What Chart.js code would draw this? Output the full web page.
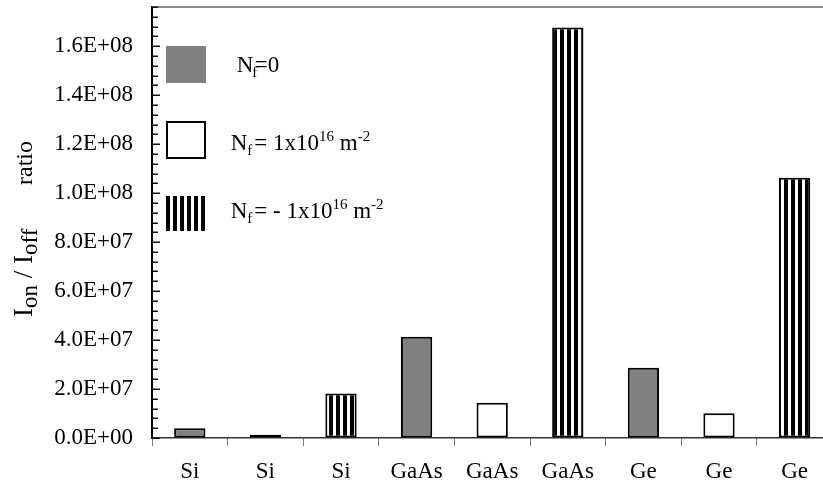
<!DOCTYPE html>
<html>
<head>
<meta charset="utf-8">
<script src="https://cdn.jsdelivr.net/npm/chart.js@4/dist/chart.umd.min.js"></script>
<style>
  html, body { margin: 0; padding: 0; background: #fff; overflow: hidden; width: 823px; height: 489px; }
  canvas { display: block; }
</style>
</head>
<body>
<canvas id="c" width="840" height="489"></canvas>
<script>
// ---- data ----
const categories = ['Si', 'Si', 'Si', 'GaAs', 'GaAs', 'GaAs', 'Ge', 'Ge', 'Ge'];
const nfZero = [4.0e6, null, null, 4.13e7, null, null, 2.87e7, null, null];
const nfPos  = [null, 1.35e6, null, null, 1.44e7, null, null, 1.01e7, null];
const nfNeg  = [null, null, 1.82e7, null, null, 1.676e8, null, null, 1.063e8];
const yMin = 0, yMax = 1.76e8, yMajorStep = 2e7, yMinorStep = 4e6;

const SERIF = '"Liberation Serif", "Times New Roman", serif';

// stripe pattern
function makeStripe() {
  const pc = document.createElement('canvas');
  pc.width = 7; pc.height = 8;
  const g = pc.getContext('2d');
  g.fillStyle = '#fff'; g.fillRect(0, 0, 7, 8);
  g.fillStyle = '#000'; g.fillRect(0, 0, 4, 8);
  return document.getElementById('c').getContext('2d').createPattern(pc, 'repeat');
}
const stripe = makeStripe();

function fmtSci(v) {
  if (Math.abs(v) < 1) return '0.0E+00';
  const e = Math.floor(Math.log10(v) + 1e-9);
  const m = v / Math.pow(10, e);
  return m.toFixed(1) + 'E+' + String(e).padStart(2, '0');
}

function drawRich(ctx, x, y, parts) {
  let cx = x;
  for (const p of parts) {
    if (p.at !== undefined) cx = x + p.at;
    ctx.font = p.size + 'px ' + SERIF;
    ctx.fillText(p.t, cx + (p.dx || 0), y + (p.dy || 0));
    cx += ctx.measureText(p.t).width + (p.dx || 0);
  }
  return cx;
}

const decorPlugin = {
  id: 'decor',
  afterDraw(chart) {
    const ctx = chart.ctx;
    const ys = chart.scales.y;
    const area = chart.chartArea;
    ctx.save();
    // top border line
    ctx.strokeStyle = '#8a8a8a';
    ctx.lineWidth = 2;
    ctx.beginPath();
    ctx.moveTo(area.left, area.top);
    ctx.lineTo(chart.width, area.top);
    ctx.stroke();
    // inner y ticks
    ctx.strokeStyle = '#111';
    ctx.lineWidth = 1.5;
    for (const t of ys.ticks) {
      const py = Math.round(ys.getPixelForValue(t.value)) + 0.25;
      const major = Math.round(t.value / 1e6) % 20 === 0;
      const len = major ? 8 : 6;
      ctx.beginPath();
      ctx.moveTo(area.left, py);
      ctx.lineTo(area.left + len, py);
      ctx.stroke();
    }
    // legend
    const bx = 166, bw = 40;
    ctx.fillStyle = '#808080';
    ctx.fillRect(bx, 46, bw, 37);
    ctx.fillStyle = '#fff';
    ctx.fillRect(bx, 121, bw, 38);
    ctx.strokeStyle = '#000';
    ctx.lineWidth = 2;
    ctx.strokeRect(bx + 1, 122, bw - 2, 36);
    ctx.save();
    ctx.translate(bx, 196);
    ctx.fillStyle = stripe;
    ctx.fillRect(0, 0, 39, 35);
    ctx.restore();

    ctx.fillStyle = '#000';
    ctx.textBaseline = 'alphabetic';
    ctx.textAlign = 'left';
    // N_f=0
    ctx.font = '23px ' + SERIF;
    const nW = ctx.measureText('N').width;
    drawRich(ctx, 236.7, 72.3, [{t: 'N', size: 23}]);
    drawRich(ctx, 236.7 + nW - 1, 72.3, [{t: 'f', size: 15, dy: 5}]);
    drawRich(ctx, 236.7 + nW + 1.5, 72.3, [{t: '=0', size: 23}]);
    // N_f = 1x10^16 m^-2
    drawRich(ctx, 230.7, 150, [
      {t: 'N', size: 23}, {t: 'f', size: 15, dy: 5}, {t: '= 1x10', size: 23, dx: 2},
      {t: '16', size: 15, dy: -9}, {t: ' m', size: 23}, {t: '-2', size: 15, dy: -9}
    ]);
    // N_f = - 1x10^16 m^-2
    drawRich(ctx, 230.7, 218.3, [
      {t: 'N', size: 23}, {t: 'f', size: 15, dy: 5}, {t: '= - 1x10', size: 23, dx: 2},
      {t: '16', size: 15, dy: -9}, {t: ' m', size: 23}, {t: '-2', size: 15, dy: -9}
    ]);

    // y axis title (rotated)
    ctx.save();
    ctx.translate(32, 317);
    ctx.rotate(-Math.PI / 2);
    drawRich(ctx, 0, 0, [
      {t: 'I', size: 27}, {t: 'on', size: 23, dy: 5}, {t: ' / ', size: 27},
      {t: 'I', size: 27}, {t: 'off', size: 23, dy: 5}, {t: 'ratio', size: 24, at: 132}
    ]);
    ctx.restore();
    ctx.restore();
  }
};

const barCommon = {
  borderColor: '#000',
  borderWidth: 2,
  borderSkipped: false,
  skipNull: true,
  categoryPercentage: 1.0,
  barPercentage: 0.414
};

function zeroPad(scale) {
  scale.paddingTop = 0; scale.paddingBottom = 0;
  scale.paddingLeft = 0; scale.paddingRight = 0;
}

new Chart(document.getElementById('c'), {
  type: 'bar',
  data: {
    labels: categories,
    datasets: [
      Object.assign({label: 'Nf=0', data: nfZero, backgroundColor: '#808080'}, barCommon),
      Object.assign({label: 'Nf = 1x10^16 m^-2', data: nfPos, backgroundColor: '#ffffff'}, barCommon),
      Object.assign({label: 'Nf = - 1x10^16 m^-2', data: nfNeg, backgroundColor: stripe}, barCommon)
    ]
  },
  options: {
    responsive: false,
    animation: false,
    events: [],
    layout: { padding: { top: 7, right: 7.6, left: 0, bottom: 0 } },
    plugins: { legend: { display: false }, tooltip: { enabled: false }, title: { display: false } },
    scales: {
      x: {
        offset: true,
        grid: { display: true, offset: true, drawOnChartArea: false, drawTicks: true, tickLength: 8, color: '#777', lineWidth: 1 },
        border: { display: true, color: '#333', width: 1.5 },
        ticks: { color: '#000', font: { family: SERIF, size: 23 }, padding: 12, maxRotation: 0, autoSkip: false },
        afterFit(scale) { scale.height = 51; zeroPad(scale); }
      },
      y: {
        min: yMin,
        max: yMax,
        grid: { display: true, drawOnChartArea: false, drawTicks: false },
        border: { display: true, color: '#000', width: 2 },
        ticks: {
          stepSize: yMinorStep,
          autoSkip: false,
          padding: 19,
          color: '#000',
          font: { family: SERIF, size: 23 },
          callback(v) { return (Math.round(v / 1e6) % Math.round(yMajorStep / 1e6) === 0) ? fmtSci(v) : ''; }
        },
        afterFit(scale) { scale.width = 152; zeroPad(scale); }
      }
    }
  },
  plugins: [decorPlugin]
});
</script>
</body>
</html>
